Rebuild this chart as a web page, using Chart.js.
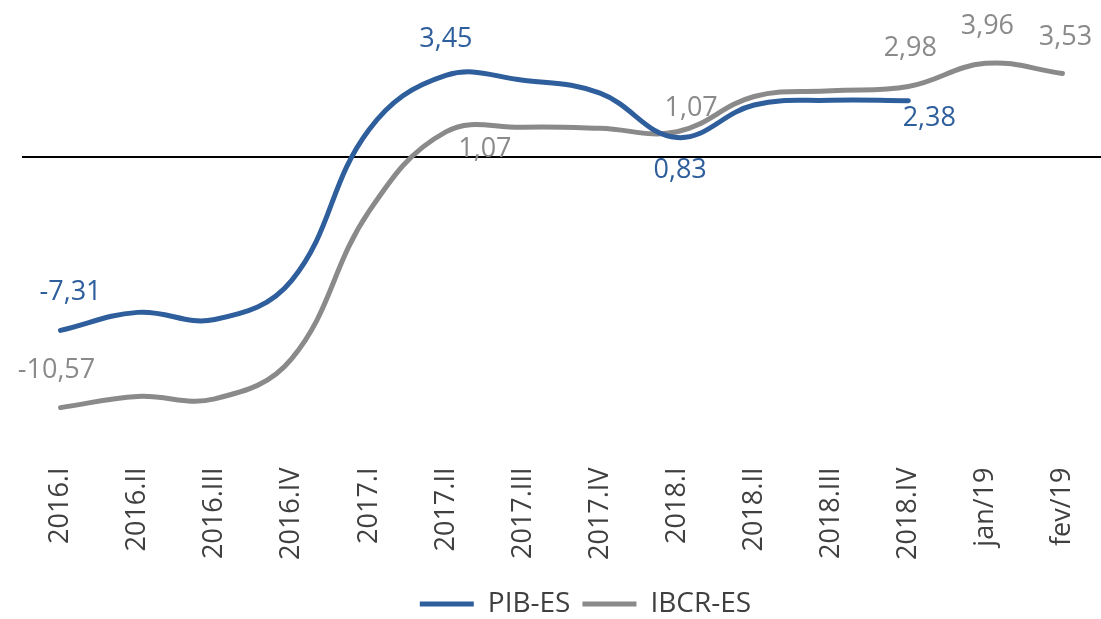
<!DOCTYPE html>
<html>
<head>
<meta charset="utf-8">
<script src="https://cdn.jsdelivr.net/npm/chart.js@4/dist/chart.umd.min.js"></script>
<style>
    html, body { margin: 0; padding: 0; background: #fff; }
    #wrap { width: 1101px; height: 619px; position: relative; }
</style>
</head>
<body>
<div id="wrap"><canvas id="chart"></canvas></div>
<script>
const categories = ['2016.I', '2016.II', '2016.III', '2016.IV', '2017.I', '2017.II', '2017.III',
    '2017.IV', '2018.I', '2018.II', '2018.III', '2018.IV', 'jan/19', 'fev/19'];

const pibValues = [-7.31, -6.55, -6.85, -5.2, 1.15, 3.45, 3.25, 2.7, 0.83, 2.2, 2.4, 2.38, null, null];
const ibcrValues = [-10.57, -10.1, -10.2, -8.5, -2.3, 1.07, 1.26, 1.22, 1.07, 2.56, 2.8, 2.98, 3.96, 3.53];

// which points get a value label
const pibLabelIndex = [0, 5, 8, 11];
const ibcrLabelIndex = [0, 5, 8, 11, 12, 13];

const BLUE = '#2E5E9B';
const GREY = '#8A8A8A';

const formatValue = (v) => new Intl.NumberFormat('pt-BR', {
    minimumFractionDigits: 2,
    maximumFractionDigits: 2,
}).format(v);

// horizontal zero line across the plot area
const zeroLine = {
    id: 'zeroLine',
    beforeDatasetsDraw: (chart) => {
        const { ctx, chartArea, scales } = chart;
        const y = Math.round(scales.y.getPixelForValue(0));
        ctx.save();
        ctx.strokeStyle = '#000';
        ctx.lineWidth = 2;
        ctx.beginPath();
        ctx.moveTo(chartArea.left, y);
        ctx.lineTo(chartArea.right, y);
        ctx.stroke();
        ctx.restore();
    },
};

// value labels next to selected points
const pointLabels = {
    id: 'pointLabels',
    afterDatasetsDraw: (chart, args, opts) => {
        const { ctx } = chart;
        ctx.save();
        ctx.font = '27px "Open Sans"';
        ctx.textAlign = 'center';
        ctx.textBaseline = 'middle';
        chart.data.datasets.forEach((dataset, di) => {
            const meta = chart.getDatasetMeta(di);
            const cfg = opts.series[di];
            ctx.fillStyle = dataset.borderColor;
            cfg.index.forEach((idx, k) => {
                const pt = meta.data[idx];
                const off = cfg.offset[k];
                ctx.fillText(formatValue(dataset.data[idx]), pt.x + off[0], pt.y + off[1]);
            });
        });
        ctx.restore();
    },
};

// the legend sits a bit right of the canvas centre in the original
const legendShift = {
    id: 'legendShift',
    afterLayout: (chart) => {
        chart.legend.left += 48;
    },
};

new Chart(document.getElementById('chart'), {
    type: 'line',
    data: {
        labels: categories,
        datasets: [
            {
                label: 'PIB-ES',
                data: pibValues,
                borderColor: BLUE,
                backgroundColor: BLUE,
                borderWidth: 5,
                borderCapStyle: 'round',
                tension: 0.4,
                pointRadius: 0,
                spanGaps: false,
            },
            {
                label: 'IBCR-ES',
                data: ibcrValues,
                borderColor: GREY,
                backgroundColor: GREY,
                borderWidth: 5,
                borderCapStyle: 'round',
                tension: 0.4,
                pointRadius: 0,
            },
        ],
    },
    options: {
        responsive: true,
        maintainAspectRatio: false,
        animation: false,
        layout: {
            padding: { left: 22, right: 0, top: 15, bottom: -9 },
        },
        plugins: {
            tooltip: { enabled: false },
            legend: {
                position: 'bottom',
                labels: {
                    usePointStyle: true,
                    pointStyle: 'line',
                    pointStyleWidth: 54,
                    color: '#404040',
                    font: { family: 'Open Sans', size: 28 },
                    padding: 12,
                },
            },
            pointLabels: {
                series: [
                    { index: pibLabelIndex, offset: [[10, -38], [0, -36], [3, 33], [21, 18]] },
                    { index: ibcrLabelIndex, offset: [[-4, -37], [39, 17], [14, -24], [2, -38], [2, -37], [3, -36]] },
                ],
            },
        },
        scales: {
            x: {
                offset: true,
                grid: { display: false },
                border: { display: false },
                ticks: {
                    minRotation: 90,
                    maxRotation: 90,
                    color: '#404040',
                    font: { family: 'Open Sans', size: 27 },
                    padding: 18,
                },
                // the rotated labels should not shrink the plot area sideways
                afterFit: (scale) => {
                    scale.paddingLeft = 0;
                    scale.paddingRight = 0;
                },
            },
            y: {
                display: false,
                min: -12,
                max: 6,
            },
        },
    },
    plugins: [zeroLine, pointLabels, legendShift],
});
</script>
</body>
</html>
